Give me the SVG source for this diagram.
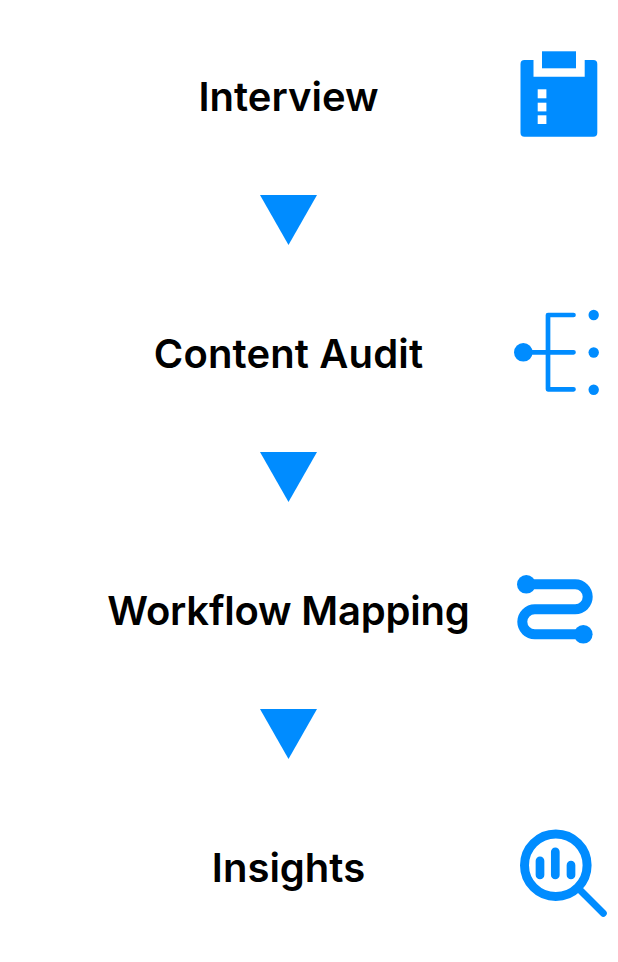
<svg xmlns="http://www.w3.org/2000/svg" width="618" height="962" viewBox="0 0 618 962">
<style>
.t{font-family:Inter,"Liberation Sans",sans-serif;font-weight:600;font-size:40px;fill:#000;text-anchor:middle}
.f{fill:#008cff}
.s{fill:none;stroke:#008cff;stroke-linecap:round;stroke-linejoin:round}
</style>
<defs><polygon id="tri" class="f" points="260,195 317,195 288.500,245"/></defs>
<rect width="618" height="962" fill="#fff"/>
<g id="connectors">
<use href="#tri"/>
<use href="#tri" y="257"/>
<use href="#tri" y="514"/>
</g>
<g id="node-interview">
<text class="t" x="288.500" y="110.700">Interview</text>
<path class="f" d="M524.500 60H533.500V76.700H584.700V60H593.300A4 4 0 0 1 597.300 64V132.700A4 4 0 0 1 593.300 136.700H524.500A4 4 0 0 1 520.500 132.700V64A4 4 0 0 1 524.500 60Z"/>
<rect class="f" x="542" y="51.300" width="34" height="17"/>
<g fill="#fff"><rect x="537.700" y="89.300" width="8.700" height="9"/><rect x="537.700" y="102.700" width="8.700" height="8.700"/><rect x="537.700" y="115.300" width="8.700" height="8.700"/></g>
</g>
<g id="node-content-audit">
<text class="t" x="288.500" y="367.700" letter-spacing="0.150">Content Audit</text>
<path class="s" stroke-width="4.700" d="M573.500 315H548V389.300H573.500M525 352.300H573.500"/>
<circle class="f" cx="523.300" cy="352.300" r="9.300"/>
<circle class="f" cx="593.700" cy="315" r="5.200"/>
<circle class="f" cx="593.700" cy="352.500" r="5.200"/>
<circle class="f" cx="593.700" cy="389.700" r="5.200"/>
</g>
<g id="node-workflow-mapping">
<text class="t" x="288.500" y="624.700" letter-spacing="-0.200">Workflow Mapping</text>
<path class="s" stroke-width="10" d="M526.300 584.300H575.200A12.500 12.500 0 0 1 575.200 609.300H534.800A12.500 12.500 0 0 0 534.800 634.300H583.300"/>
<circle class="f" cx="526.300" cy="584.300" r="9.300"/>
<circle class="f" cx="583.300" cy="634.300" r="9.300"/>
</g>
<g id="node-insights">
<text class="t" x="288.500" y="881.700">Insights</text>
<circle class="s" cx="555.800" cy="865.200" r="31.300" stroke-width="9"/>
<path class="s" stroke-width="7" d="M581 891L603.300 913.300"/>
<path class="s" stroke-width="8.700" d="M540 860.800V875M555.300 851.800V875M571 865.200V875"/>
</g>
</svg>
